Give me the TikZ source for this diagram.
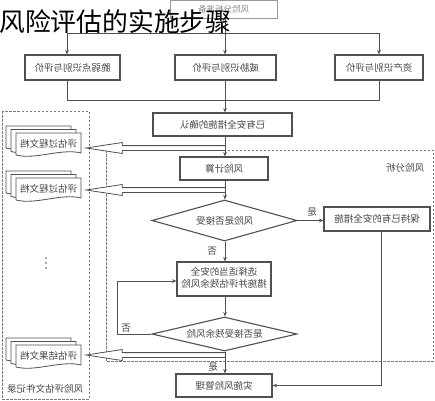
\documentclass[tikz,border=0pt]{standalone}
\usepackage{fontspec}
\newfontfamily\cjk{Noto Sans CJK SC}
\usetikzlibrary{shapes.geometric,arrows.meta,calc}
\definecolor{lc}{HTML}{505050}
\definecolor{tc}{HTML}{454545}
\definecolor{lc2}{HTML}{9A9A9A}
\definecolor{tc2}{HTML}{8A8A8A}
\definecolor{dc}{HTML}{7A7A7A}
\newcommand\mt[1]{\reflectbox{#1}}
\newcommand\docpaper[2]{\begin{scope}[shift={(#1,#2)}]
  \draw[docline] (0,0) -- (65,0) -- (65,20) .. controls (45,15) and (20,27) .. (0,22) -- cycle;
  \end{scope}}
\newcommand\docstack[4]{% name, x, y, text
  \docpaper{#2-10}{#3-7}\docpaper{#2-5}{#3-3.5}\docpaper{#2}{#3}
  \node[doctext] (#1) at (#2+32.5,#3+10.5) {\mt{#4}};}
\newcommand\hollow[2]{%
  \draw[docline] ($(#1)+(0,-2.4)$) -- ($(#2.east |- #1)+(41,-2.4)$) -- ($(#2.east |- #1)+(41,-5.5)$)
   -- ($(#2.east |- #1)+(5,0)$) -- ($(#2.east |- #1)+(41,5.5)$) -- ($(#2.east |- #1)+(41,2.4)$) -- ($(#1)+(0,2.4)$);}
\begin{document}
\begin{tikzpicture}[x=1pt,y=-1pt,
  dfont/.style={font=\cjk\fontsize{9.5}{11}\selectfont},
  box/.style={draw=lc, line width=1.1pt, fill=white, inner sep=0pt, text=tc, dfont},
  dia/.style={box, diamond, aspect=3.5},
  conn/.style={draw=lc, line width=0.8pt},
  arr/.style={conn, -{Stealth[length=4.5pt,width=3.6pt]}},
  lbl/.style={text=tc, inner sep=0pt, dfont},
  dashreg/.style={draw=dc, line width=0.8pt, dash pattern=on 2.5pt off 1.5pt},
  docline/.style={draw=lc, line width=0.8pt, fill=white},
  doctext/.style={text=tc, inner sep=0pt, minimum width=65pt, minimum height=20pt, dfont}]
\useasboundingbox (0,0) rectangle (435,400);
\fill[white] (0,0) rectangle (435,400);
% regions
\draw[dashreg] (2,111) rectangle (89,399);
\draw[dashreg] (106,150) rectangle (433,361);
\node[lbl] (ra) at (405,168) {\mt{风险分析}};
\node[lbl] (rb) at (45,389) {\mt{风险评估文件记录}};
% documents
\docstack{doc1}{16}{133}{评估过程文档}
\docstack{doc2}{16}{178}{评估过程文档}
\docstack{doc3}{16}{345}{评估结果文档}
\fill[lc] (46,258) circle (0.8) (46,263) circle (0.8) (46,268) circle (0.8);
% hollow arrows
\coordinate (h1) at (225,148);
\coordinate (h2) at (225,190);
\coordinate (h3) at (225,355);
\hollow{h1}{doc1}
\hollow{h2}{doc2}
\hollow{h3}{doc3}
% nodes
\node[box, draw=lc2, text=tc2, line width=0.9pt, minimum width=107pt, minimum height=18pt, font=\cjk\fontsize{8.5}{10}\selectfont] (prep) at (223.5,9) {\mt{风险分析准备}};
\node[box, minimum width=95pt, minimum height=25pt] (vuln) at (72.5,67.5) {\mt{脆弱点识别与评价}};
\node[box, minimum width=101pt, minimum height=25pt] (threat) at (225.5,67.5) {\mt{威胁识别与评价}};
\node[box, minimum width=88pt, minimum height=25pt] (asset) at (379,67.5) {\mt{资产识别与评价}};
\node[box, minimum width=139pt, minimum height=23pt] (confirm) at (222.5,124.5) {\mt{已有安全措施的确认}};
\node[box, minimum width=88pt, minimum height=23pt] (calc) at (224,168.5) {\mt{风险计算}};
\node[dia, minimum width=145pt, minimum height=41pt] (d1) at (224.5,220.5) {\mt{风险是否接受}};
\node[box, minimum width=106pt, minimum height=24pt] (keep) at (377,219) {\mt{保持已有的安全措施}};
\node[box, minimum width=94pt, minimum height=34pt] (select) at (224,279) {\mt{\begin{tabular}{@{}c@{}}选择适当的安全\\措施并评估残余风险\end{tabular}}};
\node[dia, minimum width=145pt, minimum height=34pt] (d2) at (224.5,334) {\mt{是否接受残余风险}};
\node[box, minimum width=96pt, minimum height=23pt] (impl) at (224,385.5) {\mt{实施风险管理}};
% connectors
\coordinate (m) at (225,0);
\coordinate (t1) at (67,33);
\coordinate (t3) at (379,33);
\coordinate (b1) at (67,100);
\coordinate (b3) at (379,100);
\coordinate (k) at (381,0);
\coordinate (lp) at (117,0);
\draw[conn] (t1) -- (t3);
\draw[arr] (prep.south -| m) -- (threat.north -| m);
\draw[arr] (t1) -- (t1 |- vuln.north);
\draw[arr] (t3) -- (t3 |- asset.north);
\draw[conn] (vuln.south -| b1) -- (b1) -- (b3) -- (asset.south -| b3);
\draw[arr] (threat.south -| m) -- (confirm.north -| m);
\draw[arr] (confirm.south -| m) -- (calc.north -| m);
\draw[arr] (calc.south -| m) -- (d1.north -| m);
\draw[arr] (d1.south -| m) -- (select.north -| m);
\draw[arr] (select.south -| m) -- (d2.north -| m);
\draw[arr] (d2.south -| m) -- (impl.north -| m);
\draw[arr] (d1.east) -- (keep.west |- d1.east);
\draw[arr] (keep.south -| k) |- (impl.east);
\draw[arr] (d2.west) -- (d2.west -| lp) |- ($(select.west)+(0,2)$);
\node[lbl] (l1) at (312,212) {\mt{是}};
\node[lbl] (l2) at (212,251) {\mt{否}};
\node[lbl] (l3) at (126,328) {\mt{否}};
\node[lbl] (l4) at (213,367) {\mt{是}};
% title
\node[anchor=west, inner sep=0pt, text=black, font=\cjk\fontsize{25.8}{28}\selectfont] (title) at (-1,21.5) {风险评估的实施步骤};
\end{tikzpicture}
\end{document}
